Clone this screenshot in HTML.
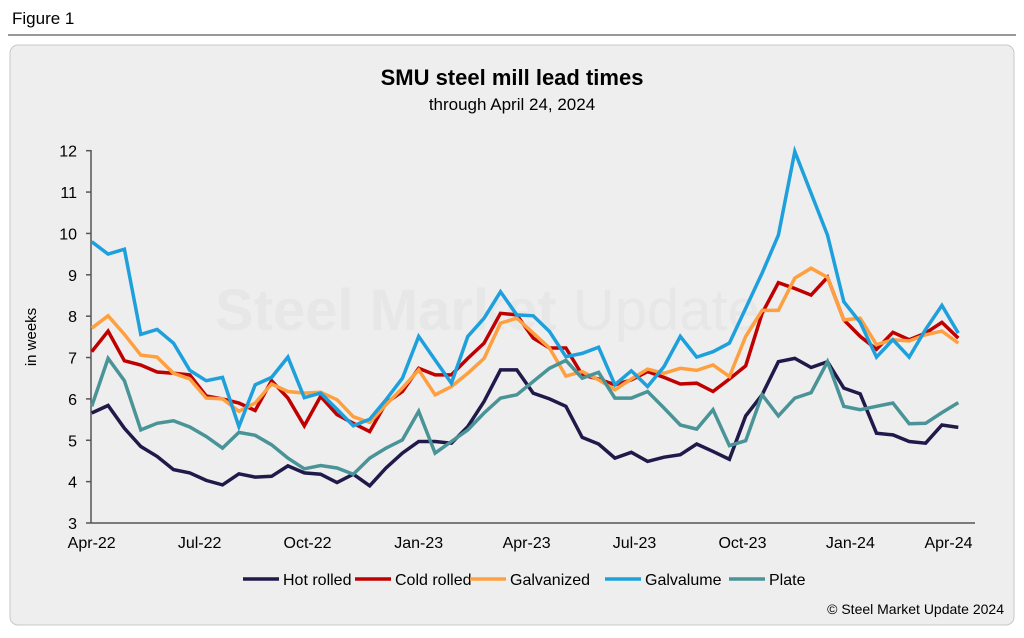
<!DOCTYPE html>
<html><head><meta charset="utf-8"><style>
body{margin:0;background:#fff;width:1024px;height:633px;overflow:hidden;font-family:"Liberation Sans",Arial,sans-serif}
</style></head><body>
<svg width="1024" height="633" xmlns="http://www.w3.org/2000/svg">
<text x="12" y="24" font-size="17" fill="#000">Figure 1</text>
<line x1="8" y1="35" x2="1016" y2="35" stroke="#333" stroke-width="1"/>
<rect x="10" y="45" width="1004" height="580" rx="8" fill="#eeeeee" stroke="#c8c8c8"/>
<text x="215" y="330" font-size="58" font-weight="bold" fill="#e7e7e7">Steel Market <tspan font-weight="normal">Update</tspan></text>
<text x="512" y="85" text-anchor="middle" font-size="22" font-weight="bold">SMU steel mill lead times</text>
<text x="512" y="110" text-anchor="middle" font-size="17">through April 24, 2024</text>
<text transform="translate(36,337) rotate(-90)" text-anchor="middle" font-size="15">in weeks</text>
<g id="axes"></g>
<g id="series"></g>
<g id="legend"></g>
<text x="1004" y="614" text-anchor="end" font-size="14">© Steel Market Update 2024</text>
</svg>
<script>
const yTicks=[3,4,5,6,7,8,9,10,11,12];
const xLabels=["Apr-22","Jul-22","Oct-22","Jan-23","Apr-23","Jul-23","Oct-23","Jan-24","Apr-24"];
const xLabelIdx=[0,6.6,13.2,20,26.6,33.2,39.8,46.4,52.4];
const seriesNames=["Hot rolled","Cold rolled","Galvanized","Galvalume","Plate"];
const seriesColors=["#1f1a4a","#c00000","#ffa040","#1ea0dc","#4a9498"];
const hotRolled=[5.66,5.84,5.29,4.85,4.61,4.29,4.21,4.03,3.92,4.19,4.11,4.13,4.38,4.21,4.18,3.98,4.18,3.90,4.33,4.69,4.97,4.97,4.93,5.33,5.94,6.70,6.70,6.14,6.0,5.82,5.07,4.91,4.57,4.71,4.49,4.59,4.65,4.91,4.73,4.54,5.59,6.10,6.90,6.98,6.76,6.90,6.26,6.12,5.17,5.13,4.97,4.93,5.37,5.31];
const coldRolled=[7.14,7.64,6.92,6.82,6.65,6.62,6.58,6.07,6.0,5.9,5.72,6.44,6.02,5.35,6.06,5.62,5.41,5.21,5.90,6.18,6.74,6.58,6.58,6.98,7.35,8.07,8.03,7.47,7.23,7.23,6.58,6.48,6.34,6.46,6.66,6.52,6.36,6.38,6.18,6.48,6.80,8.07,8.81,8.67,8.51,8.94,7.91,7.51,7.20,7.61,7.43,7.59,7.85,7.47];
const galvanized=[7.71,8.01,7.56,7.06,7.01,6.62,6.48,6.02,6.0,5.70,5.90,6.36,6.18,6.14,6.16,5.98,5.57,5.43,5.86,6.26,6.70,6.10,6.30,6.62,6.98,7.83,7.95,7.59,7.23,6.55,6.66,6.46,6.22,6.48,6.72,6.62,6.74,6.69,6.82,6.54,7.51,8.14,8.14,8.92,9.16,8.94,7.91,7.95,7.31,7.43,7.40,7.55,7.64,7.35];
const galvalume=[9.80,9.50,9.62,7.56,7.68,7.35,6.69,6.44,6.52,5.33,6.34,6.52,7.01,6.03,6.14,5.75,5.35,5.51,5.98,6.50,7.51,6.94,6.38,7.51,7.95,8.59,8.03,8.01,7.63,7.02,7.10,7.25,6.34,6.68,6.30,6.78,7.51,7.01,7.14,7.35,8.19,9.04,9.96,11.98,10.97,9.96,8.35,7.85,7.01,7.43,7.01,7.68,8.26,7.59];
const plate=[5.82,6.98,6.44,5.25,5.41,5.47,5.32,5.09,4.81,5.19,5.12,4.89,4.57,4.31,4.39,4.33,4.18,4.57,4.81,5.01,5.70,4.69,4.97,5.25,5.66,6.02,6.10,6.42,6.74,6.93,6.50,6.64,6.02,6.02,6.18,5.78,5.37,5.27,5.74,4.87,4.99,6.10,5.59,6.02,6.15,6.90,5.82,5.74,5.82,5.90,5.40,5.41,5.67,5.91];
const allSeries=[hotRolled,coldRolled,galvanized,galvalume,plate];
const NS="http://www.w3.org/2000/svg";
const X0=91.7,X1=958.3,Y0=523,Y1=150.7,N=hotRolled.length;
function xs(i){return X0+i*(X1-X0)/(N-1);}
function ys(v){return Y0-(v-3)*(Y0-Y1)/9;}
function mk(t,a,p){const e=document.createElementNS(NS,t);for(const k in a)e.setAttribute(k,a[k]);p.appendChild(e);return e;}
const ax=document.getElementById('axes');
let l=mk('line',{x1:91,y1:150,x2:91,y2:523,stroke:'#555','stroke-width':1.5},ax);


l=mk('line',{x1:91,y1:523,x2:975,y2:523,stroke:'#555','stroke-width':1.5},ax);


yTicks.forEach(v=>{
 const t=mk('line',{x1:86,x2:91,y1:ys(v),y2:ys(v),stroke:'#555','stroke-width':1.5},ax);
 
 
 const tx=mk('text',{x:77,y:ys(v)+6,'text-anchor':'end','font-size':16},ax);
 tx.textContent=v;
 
 
});
xLabels.forEach((s,k)=>{
 const x=xs(xLabelIdx[k]);
 const tx=mk('text',{x:x,y:548,'text-anchor':'middle','font-size':16},ax);
 tx.textContent=s;
 
 
});
const sg=document.getElementById('series');
allSeries.forEach((d,k)=>{
 const pts=d.map((v,i)=>xs(i).toFixed(1)+','+ys(v).toFixed(1)).join(' ');
 const p=mk('polyline',{points:pts,fill:'none',stroke:seriesColors[k],'stroke-width':3.5,'stroke-linejoin':'miter'},sg);
 
 
});
const lg=document.getElementById('legend');
const lx=[243,355,470,605,729];
seriesNames.forEach((s,k)=>{
 const g=mk('g',{},lg);
 
 
 mk('line',{x1:lx[k],x2:lx[k]+36,y1:579,y2:579,stroke:seriesColors[k],'stroke-width':3.5},g);
 const t=mk('text',{x:lx[k]+40,y:585,'font-size':16},g);
 t.textContent=s;
});
</script>
</body></html>
